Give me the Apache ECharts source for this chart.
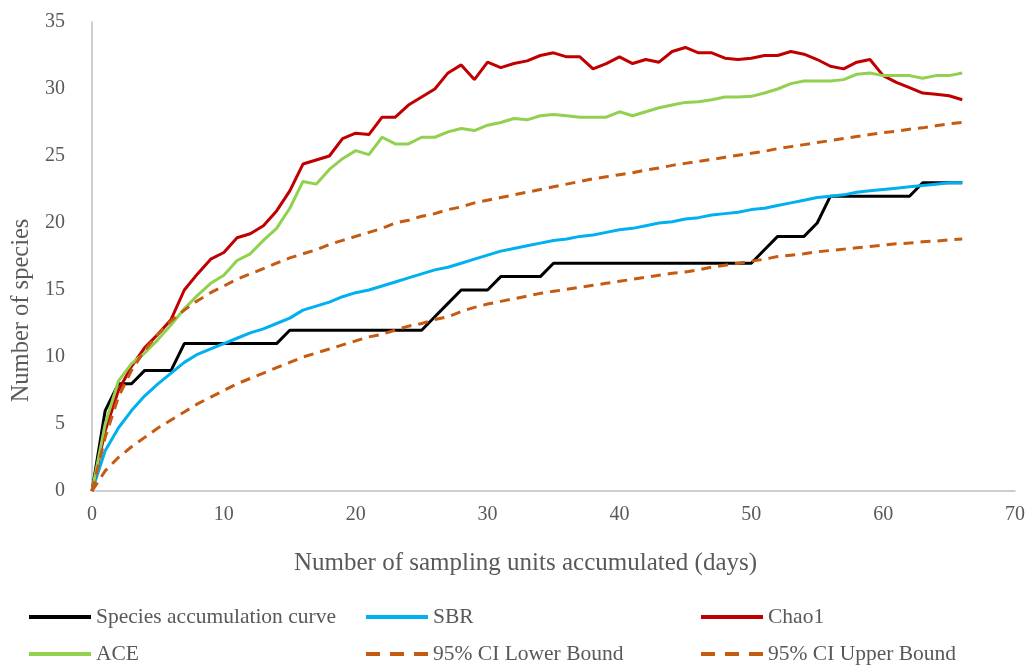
<!DOCTYPE html>
<html>
<head>
<meta charset="utf-8">
<script src="https://cdn.jsdelivr.net/npm/echarts@6/dist/echarts.min.js"></script>
<style>
  html, body { margin: 0; padding: 0; background: #fff; }
  #chart { width: 1029px; height: 666px; }
</style>
</head>
<body>
<div id="chart"></div>
<script>
// sampling days (x)
var days = [0,1,2,3,4,5,6,7,8,9,10,11,12,13,14,15,16,17,18,19,20,21,22,23,24,25,26,27,28,29,30,31,32,33,34,35,36,37,38,39,40,41,42,43,44,45,46,47,48,49,50,51,52,53,54,55,56,57,58,59,60,61,62,63,64,65,66]

var speciesCurve = [0,6,8,8,9,9,9,11,11,11, 11,11,11,11,11,12,12,12,12,12, 12,12,12,12,12,12,13,14,15,15, 15,16,16,16,16,17,17,17,17,17, 17,17,17,17,17,17,17,17,17,17, 17,18,19,19,19,20,22,22,22,22, 22,22,22,23,23,23,23]

var sbr = [0,3.0,4.7,6.0,7.1,8.0,8.8,9.6,10.2,10.6, 11.0,11.4,11.8,12.1,12.5,12.9,13.5,13.8,14.1,14.5, 14.8,15.0,15.3,15.6,15.9,16.2,16.5,16.7,17.0,17.3, 17.6,17.9,18.1,18.3,18.5,18.7,18.8,19.0,19.1,19.3, 19.5,19.6,19.8,20.0,20.1,20.3,20.4,20.6,20.7,20.8, 21.0,21.1,21.3,21.5,21.7,21.9,22.0,22.1,22.3,22.4, 22.5,22.6,22.7,22.8,22.9,23.0,23.0]

var chao1 = [0,4.5,7.5,9.3,10.7,11.7,12.8,15.0,16.2,17.3, 17.8,18.9,19.2,19.8,20.9,22.4,24.4,24.7,25.0,26.3, 26.7,26.6,27.9,27.9,28.8,29.4,30.0,31.2,31.8,30.7, 32.0,31.6,31.9,32.1,32.5,32.7,32.4,32.4,31.5,31.9, 32.4,31.9,32.2,32.0,32.8,33.1,32.7,32.7,32.3,32.2, 32.3,32.5,32.5,32.8,32.6,32.2,31.7,31.5,32.0,32.2, 31.0,30.5,30.1,29.7,29.6,29.5,29.2]

var ace = [0,5.0,8.2,9.5,10.3,11.3,12.4,13.6,14.6,15.5, 16.1,17.2,17.7,18.7,19.6,21.1,23.1,22.9,24.0,24.8, 25.4,25.1,26.4,25.9,25.9,26.4,26.4,26.8,27.05,26.9, 27.3,27.5,27.8,27.7,28.0,28.1,28.0,27.9,27.9,27.9, 28.3,28.0,28.3,28.6,28.8,29.0,29.05,29.2,29.4,29.4, 29.45,29.7,30.0,30.4,30.6,30.6,30.6,30.7,31.1,31.2, 31.0,31.0,31.0,30.8,31.0,31.0,31.2]

var ciLower = [0,1.5,2.5,3.3,4.0,4.7,5.3,5.9,6.5,7.0, 7.5,8.0,8.4,8.8,9.2,9.6,10.0,10.3,10.6,10.9, 11.2,11.5,11.7,12.0,12.3,12.5,12.8,13.0,13.4,13.7, 13.95,14.15,14.35,14.55,14.75,14.9,15.05,15.2,15.35,15.5, 15.65,15.8,15.95,16.1,16.25,16.35,16.5,16.7,16.85,17.0, 17.15,17.3,17.5,17.6,17.7,17.85,17.95,18.05,18.15,18.25, 18.35,18.45,18.5,18.6,18.65,18.75,18.8]

var ciUpper = [0,4.0,7.0,9.0,10.5,11.7,12.7,13.5,14.2,14.8, 15.3,15.8,16.2,16.6,17.0,17.4,17.7,18.0,18.4,18.7, 19.0,19.3,19.6,20.0,20.2,20.5,20.7,21.0,21.2,21.5, 21.7,21.9,22.1,22.3,22.5,22.7,22.9,23.1,23.3,23.45, 23.6,23.75,23.95,24.1,24.3,24.45,24.6,24.75,24.9,25.05, 25.2,25.35,25.55,25.7,25.85,26.0,26.15,26.3,26.45,26.6, 26.75,26.85,27.0,27.1,27.25,27.4,27.5]

var xTicks = [0, 70, 10]   // min, max, step
var yTicks = [0, 35, 5]

var font = 'Liberation Serif'
var grey = '#595959'
var solidIcon = 'path://M0,0H62V4H0Z'
var dashIcon = 'path://M0,0H14V4H0Z M24,0H38V4H24Z M48,0H62V4H48Z'

function pairs(vals) {
  return days.map(function (d, i) { return [d, vals[i]] })
}

function line(name, vals, color, dashed) {
  return {
    name: name,
    type: 'line',
    symbol: 'none',
    lineStyle: { color: color, width: 3, type: dashed ? [10, 7] : 'solid' },
    itemStyle: { color: color },
    data: pairs(vals)
  }
}

// one legend per entry, laid out like the 3x2 grid of the original
function legendItem(left, top, name, color, dashed) {
  return {
    left: left,
    top: top,
    padding: 0,
    itemWidth: 62,
    itemHeight: 4,
    selectedMode: false,
    data: [{ name: name, icon: dashed ? dashIcon : solidIcon, itemStyle: { color: color } }],
    textStyle: { fontFamily: font, fontSize: 21.5, color: grey, lineHeight: 22 }
  }
}

var chart = echarts.init(document.getElementById('chart'))
chart.setOption({
  backgroundColor: '#fff',
  animation: false,
  grid: { left: 92, right: 14, top: 22, bottom: 175 },
  legend: [
    legendItem(29, 606, 'Species accumulation curve', '#000000'),
    legendItem(29, 643, 'ACE', '#92d050'),
    legendItem(366, 606, 'SBR', '#00b0f0'),
    legendItem(366, 643, '95% CI Lower Bound', '#c55a11', true),
    legendItem(701, 606, 'Chao1', '#c00000'),
    legendItem(701, 643, '95% CI Upper Bound', '#c55a11', true)
  ],
  xAxis: {
    type: 'value',
    min: xTicks[0], max: xTicks[1], interval: xTicks[2],
    name: 'Number of sampling units accumulated (days)',
    nameLocation: 'middle',
    nameGap: 60,
    nameTextStyle: { fontFamily: font, fontSize: 25, color: grey, padding: [0, 56, 0, 0] },
    axisLine: { lineStyle: { color: '#bfbfbf', width: 1.5 } },
    axisTick: { show: false },
    splitLine: { show: false },
    axisLabel: { fontFamily: font, fontSize: 20, color: grey, margin: 14 }
  },
  yAxis: {
    type: 'value',
    min: yTicks[0], max: yTicks[1], interval: yTicks[2],
    name: 'Number of species',
    nameLocation: 'middle',
    nameGap: 57,
    nameTextStyle: { fontFamily: font, fontSize: 24.5, color: grey, padding: [0, 108, 0, 0] },
    axisLine: { show: true, lineStyle: { color: '#bfbfbf', width: 1.5 } },
    axisTick: { show: false },
    splitLine: { show: false },
    axisLabel: { fontFamily: font, fontSize: 20, color: grey, margin: 27 }
  },
  series: [
    line('Species accumulation curve', speciesCurve, '#000000'),
    line('SBR', sbr, '#00b0f0'),
    line('Chao1', chao1, '#c00000'),
    line('ACE', ace, '#92d050'),
    line('95% CI Lower Bound', ciLower, '#c55a11', true),
    line('95% CI Upper Bound', ciUpper, '#c55a11', true)
  ]
})
</script>
</body>
</html>
